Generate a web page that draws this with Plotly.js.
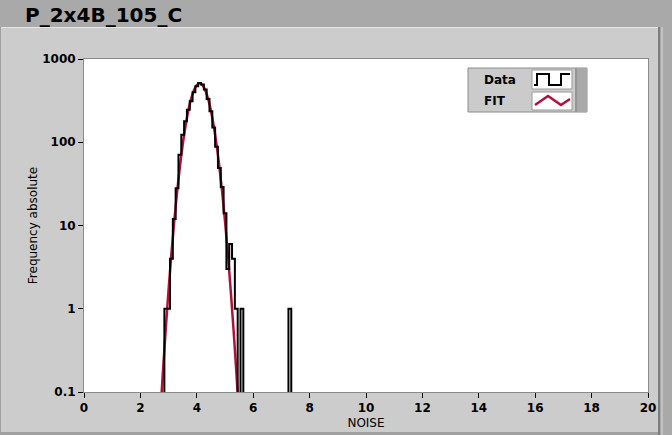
<!DOCTYPE html>
<html>
<head>
<meta charset="utf-8">
<script src="https://cdn.plot.ly/plotly-3.0.1.min.js"></script>
<style>
html,body{margin:0;padding:0;background:#cccccc;}
#chart{width:672px;height:435px;}
</style>
</head>
<body>
<div id="chart"></div>
<script>
// ---- data ----
const chartTitle = 'P_2x4B_105_C';
const binWidth = 0.1;
const binCenters = [2.9,3.0,3.1,3.2,3.3,3.4,3.5,3.6,3.7,3.8,3.9,4.0,4.1,4.2,4.3,4.4,4.5,4.6,4.7,4.8,4.9,5.0,5.1,5.2,5.3,5.4,5.5,5.6,7.3];
const binCounts  = [1,1,4,12,28,71,123,179,246,311,400,470,515,495,430,330,235,150,88,49,29,14,3,6,4,1,0,1,1];
const fitX = [2.7,2.8,2.9,3.0,3.1,3.2,3.3,3.4,3.5,3.6,3.7,3.8,3.9,4.0,4.1,4.2,4.3,4.4,4.5,4.6,4.7,4.8,4.9,5.0,5.1,5.2,5.3,5.4,5.5];
const fitY = [0.050,0.178,0.579,1.71,4.60,11.25,25.1,50.8,93.6,157,240,334,422,487,510,487,422,334,240,157,93.6,50.8,25.1,11.25,4.60,1.71,0.579,0.178,0.050];
const xTickVals = [0,2,4,6,8,10,12,14,16,18,20];
const yTickVals = [0.1,1,10,100,1000];
const yTickText = ['0.1','1','10','100','1000'];
const legendNames = ['Data','FIT'];

// ---- build step outline of the histogram ----
const FLOOR = 0.01; // below the visible axis range, stands for empty bins
const stepX = [], stepY = [];
for (let i = 0; i < binCenters.length; i++) {
  const left = binCenters[i] - binWidth/2;
  const right = binCenters[i] + binWidth/2;
  const v = binCounts[i] > 0 ? binCounts[i] : FLOOR;
  const prevAdj = i > 0 && Math.abs(binCenters[i] - binCenters[i-1] - binWidth) < 1e-6;
  if (!prevAdj) { stepX.push(left); stepY.push(FLOOR); }
  stepX.push(left); stepY.push(v);
  const nextAdj = i < binCenters.length-1 && Math.abs(binCenters[i+1] - binCenters[i] - binWidth) < 1e-6;
  if (!nextAdj) { stepX.push(right); stepY.push(FLOOR); }
}

// ---- layout geometry (pixels) ----
const W = 672, H = 435, L = 84, R = 24, T = 59, B = 43;
const PW = W - L - R, PH = H - T - B;
const px = x => (x - L) / PW;
const py = y => 1 - (y - T) / PH;

const FONT = 'DejaVu Sans';
const fitColor = '#b0103c';

const shapes = [
  // window chrome
  {type:'rect', xref:'paper', yref:'paper', x0:px(0), x1:px(672), y0:py(0), y1:py(27), fillcolor:'#a9a9a9', line:{width:0}, layer:'below'},
  {type:'line', xref:'paper', yref:'paper', x0:px(0), x1:px(658), y0:py(27.5), y1:py(27.5), line:{color:'#e6e6e6', width:1}, layer:'below'},
  {type:'rect', xref:'paper', yref:'paper', x0:px(658), x1:px(672), y0:py(27), y1:py(435), fillcolor:'#a9a9a9', line:{width:0}, layer:'below'},
  {type:'line', xref:'paper', yref:'paper', x0:px(659), x1:px(659), y0:py(27), y1:py(435), line:{color:'#7c7c7c', width:2}, layer:'below'},
  {type:'line', xref:'paper', yref:'paper', x0:px(662), x1:px(662), y0:py(27), y1:py(435), line:{color:'#d8d8d8', width:1}, layer:'below'},
  {type:'rect', xref:'paper', yref:'paper', x0:px(0), x1:px(658), y0:py(432), y1:py(435), fillcolor:'#a0a0a0', line:{width:0}, layer:'below'},
  {type:'line', xref:'paper', yref:'paper', x0:px(0.5), x1:px(0.5), y0:py(27), y1:py(435), line:{color:'#a0a0a0', width:1}, layer:'below'},
  // legend box
  {type:'rect', xref:'paper', yref:'paper', x0:px(468), x1:px(587), y0:py(68), y1:py(112), fillcolor:'#cbcbcb', line:{color:'#8c8c8c', width:1}, layer:'above'},
  {type:'rect', xref:'paper', yref:'paper', x0:px(575), x1:px(587), y0:py(68), y1:py(112), fillcolor:'#a9a9a9', line:{width:0}, layer:'above'},
  {type:'line', xref:'paper', yref:'paper', x0:px(576), x1:px(576), y0:py(68), y1:py(112), line:{color:'#808080', width:1}, layer:'above'},
  {type:'rect', xref:'paper', yref:'paper', x0:px(532), x1:px(572), y0:py(70), y1:py(89), fillcolor:'#ffffff', line:{color:'#9a9a9a', width:1}, layer:'above'},
  {type:'rect', xref:'paper', yref:'paper', x0:px(532), x1:px(572), y0:py(92), y1:py(110), fillcolor:'#ffffff', line:{color:'#9a9a9a', width:1}, layer:'above'},
  {type:'path', xref:'paper', yref:'paper', layer:'above', line:{color:'#000000', width:2},
   path:`M ${px(534)},${py(85)} L ${px(537)},${py(85)} L ${px(537)},${py(74)} L ${px(549)},${py(74)} L ${px(549)},${py(85)} L ${px(561)},${py(85)} L ${px(561)},${py(74)} L ${px(570)},${py(74)}`},
  {type:'path', xref:'paper', yref:'paper', layer:'above', line:{color:fitColor, width:2.5},
   path:`M ${px(535)},${py(105)} L ${px(548)},${py(96)} L ${px(561)},${py(105)} L ${px(570)},${py(99)}`}
];

const annotations = [
  {xref:'paper', yref:'paper', x:px(482), y:py(79.5), xanchor:'left', yanchor:'middle', text:legendNames[0], showarrow:false, font:{family:FONT, size:12, weight:'bold', color:'#000'}},
  {xref:'paper', yref:'paper', x:px(482), y:py(101), xanchor:'left', yanchor:'middle', text:legendNames[1], showarrow:false, font:{family:FONT, size:12, weight:'bold', color:'#000'}}
];

const traces = [
  {name:legendNames[1], x:fitX, y:fitY, type:'scatter', mode:'lines', line:{color:fitColor, width:2.5, shape:'spline'}, hoverinfo:'skip'},
  {name:legendNames[0], x:stepX, y:stepY, type:'scatter', mode:'lines', line:{color:'#000000', width:2, shape:'hv'}, hoverinfo:'skip'}
];

const layout = {
  width: W, height: H,
  margin: {l:L, r:R, t:T, b:B, pad:0},
  paper_bgcolor: '#cccccc',
  plot_bgcolor: '#ffffff',
  showlegend: false,
  title: {text: chartTitle, x: 25/W, xref:'container', xanchor:'left', y: 1 - 14.5/H, yref:'container', yanchor:'middle',
          font:{family:FONT, size:20, weight:'bold', color:'#000'}},
  xaxis: {
    range:[0,20], tickvals:xTickVals, ticktext:xTickVals.map(String),
    ticks:'outside', ticklen:5, tickwidth:1, tickcolor:'#000',
    showgrid:false, zeroline:false, showline:true, linecolor:'#8a8a8a', linewidth:1, mirror:true,
    tickfont:{family:FONT, size:12, weight:'bold', color:'#000'},
    title:{text:'NOISE', font:{family:FONT, size:12, color:'#000'}, standoff:4}
  },
  yaxis: {
    type:'log', range:[-1,3], tickvals:yTickVals, ticktext:yTickText,
    ticks:'outside', ticklen:5, tickwidth:1, tickcolor:'#000',
    showgrid:false, zeroline:false, showline:true, linecolor:'#8a8a8a', linewidth:1, mirror:true,
    tickfont:{family:FONT, size:12, weight:'bold', color:'#000'},
    title:{text:'Frequency absolute', font:{family:FONT, size:12, color:'#000'}, standoff:1}
  },
  shapes: shapes,
  annotations: annotations
};

Plotly.newPlot('chart', traces, layout, {staticPlot:true, displayModeBar:false});
</script>
</body>
</html>
